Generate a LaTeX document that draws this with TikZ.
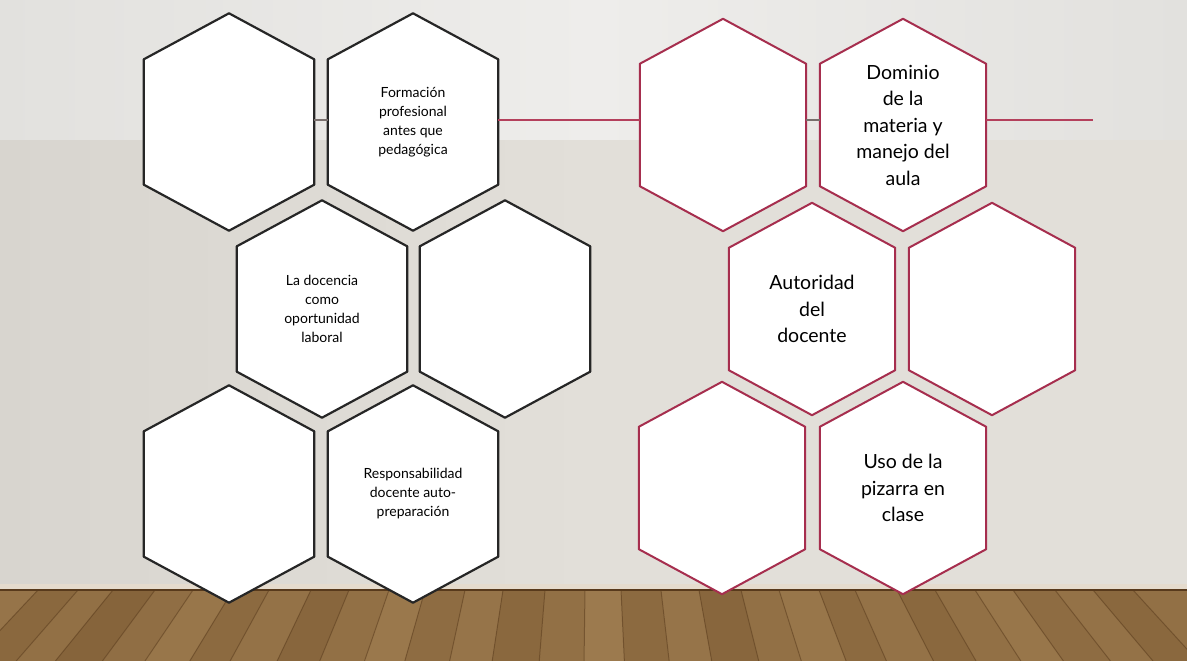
\documentclass[tikz,border=0pt]{standalone}
\usepackage{fontspec}
\setmainfont{Lato}
\usetikzlibrary{positioning}

\pgfdeclarelayer{wall}
\pgfdeclarelayer{cells}
\pgfsetlayers{wall,cells,main}

\definecolor{hexred}{RGB}{166,46,78}
\definecolor{linered}{RGB}{180,64,92}
\definecolor{gaplink}{RGB}{120,110,108}
\definecolor{walltop}{RGB}{238,237,235}
\definecolor{wallside}{RGB}{226,225,222}
\definecolor{wallmid}{RGB}{226,223,217}
\definecolor{wallleft}{RGB}{216,213,207}
\definecolor{wood}{RGB}{128,94,54}
\definecolor{wooddark}{RGB}{88,58,28}
\definecolor{woodlight}{RGB}{168,134,88}

\tikzset{
  cell/.style={minimum width=170pt, minimum height=217pt, inner sep=0pt, align=center},
  smalltext/.style={cell, font=\fontsize{14}{19}\selectfont},
  bigtext/.style={cell, minimum width=166pt, minimum height=212pt, font=\fontsize{19.5}{26.5}\selectfont},
  hexblack/.style={draw=black!85, line width=2.2pt, fill=white, line join=round},
  hexpink/.style={draw=hexred, line width=2pt, fill=white, line join=round},
  link/.style={draw=linered, line width=2.6pt},
  gap/.style={draw=gaplink, line width=2.6pt},
}

% hexagon drawn round a cell node: node, style, depth of the slopes
\newcommand{\hexround}[3]{%
  \path[#2] (#1.north) -- ([yshift=-#3]#1.north east) -- ([yshift=#3]#1.south east)
    -- (#1.south) -- ([yshift=#3]#1.south west) -- ([yshift=-#3]#1.north west) -- cycle;}

\begin{document}
\begin{tikzpicture}[x=1pt, y=-1pt]
    \useasboundingbox (0,0) rectangle (1187,661);

    % left group
    \node[smalltext] (lblankA) at (229,122) {};
    \node[smalltext] (formacion) at (413,122) {Formación\\profesional\\antes que\\pedagógica};
    \node[smalltext] (docencia) at (322,309) {La docencia\\como\\oportunidad\\laboral};
    \node[smalltext] (lblankB) at (505,309) {};
    \node[smalltext] (lblankC) at (229,494) {};
    \node[smalltext] (responsabilidad) at (413,494) {Responsabilidad\\docente auto-\\preparación};

    % right group
    \node[bigtext] (rblankA) at (723,125) {};
    \node[bigtext] (dominio) at (903,125) {Dominio\\de la\\materia y\\manejo del\\aula};
    \node[bigtext] (autoridad) at (812,309) {Autoridad\\del\\docente};
    \node[bigtext] (rblankB) at (992,309) {};
    \node[bigtext] (rblankC) at (722,488) {};
    \node[bigtext] (pizarra) at (903,488) {Uso de la\\pizarra en\\clase};

    \coordinate (lineend) at (1093,120);

    % wall and floor
    \begin{pgfonlayer}{wall}
        \shade[left color=wallside, right color=wallside, middle color=walltop] (0,0) rectangle (1187,140);
        \shade[left color=wallleft, right color=wallmid, middle color=wallmid] (0,140) rectangle (1187,590);
        \fill[woodlight!30!white] (0,584) rectangle (1187,590);
        \fill[wood] (0,590) rectangle (1187,661);
        \foreach \x/\w/\c in {0/38/55,38/40/25,78/35/45,113/42/15,155/38/40,193/40/60,233/36/30,269/42/50,311/38/20,349/40/45,389/36/65,425/40/35,465/38/55,503/42/25,545/40/45,585/36/70,621/40/30,661/38/55,699/42/20,741/38/45,779/40/60,819/36/30,855/42/50,897/38/25,935/40/45,975/38/60,1013/42/35,1055/38/50,1093/40/25,1133/54/45} {
            \fill[woodlight!\c!wood] (\x,590) -- ({\x+\w},590) -- ({\x+\w+(\x+\w-593)*0.12},661) -- ({\x+(\x-593)*0.12},661) -- cycle;
            \draw[wooddark, opacity=0.5, line width=1pt] (\x,590) -- ({\x+(\x-593)*0.12},661);
        }
        \draw[wooddark, line width=1.5pt] (0,590) -- (1187,590);
    \end{pgfonlayer}

    % hexagons
    \begin{pgfonlayer}{cells}
        \foreach \n in {lblankA,formacion,docencia,lblankB,lblankC,responsabilidad} {
            \hexround{\n}{hexblack}{46pt}
        }
        \foreach \n in {rblankA,dominio,autoridad,rblankB,rblankC,pizarra} {
            \hexround{\n}{hexpink}{45pt}
        }
    \end{pgfonlayer}

    % connecting line
    \draw[gap] (lblankA.east |- lineend) -- (formacion.west |- lineend);
    \draw[link] (formacion.east |- lineend) -- (rblankA.west |- lineend);
    \draw[gap] (rblankA.east |- lineend) -- (dominio.west |- lineend);
    \draw[link] (dominio.east |- lineend) -- (lineend);

\end{tikzpicture}
\end{document}
